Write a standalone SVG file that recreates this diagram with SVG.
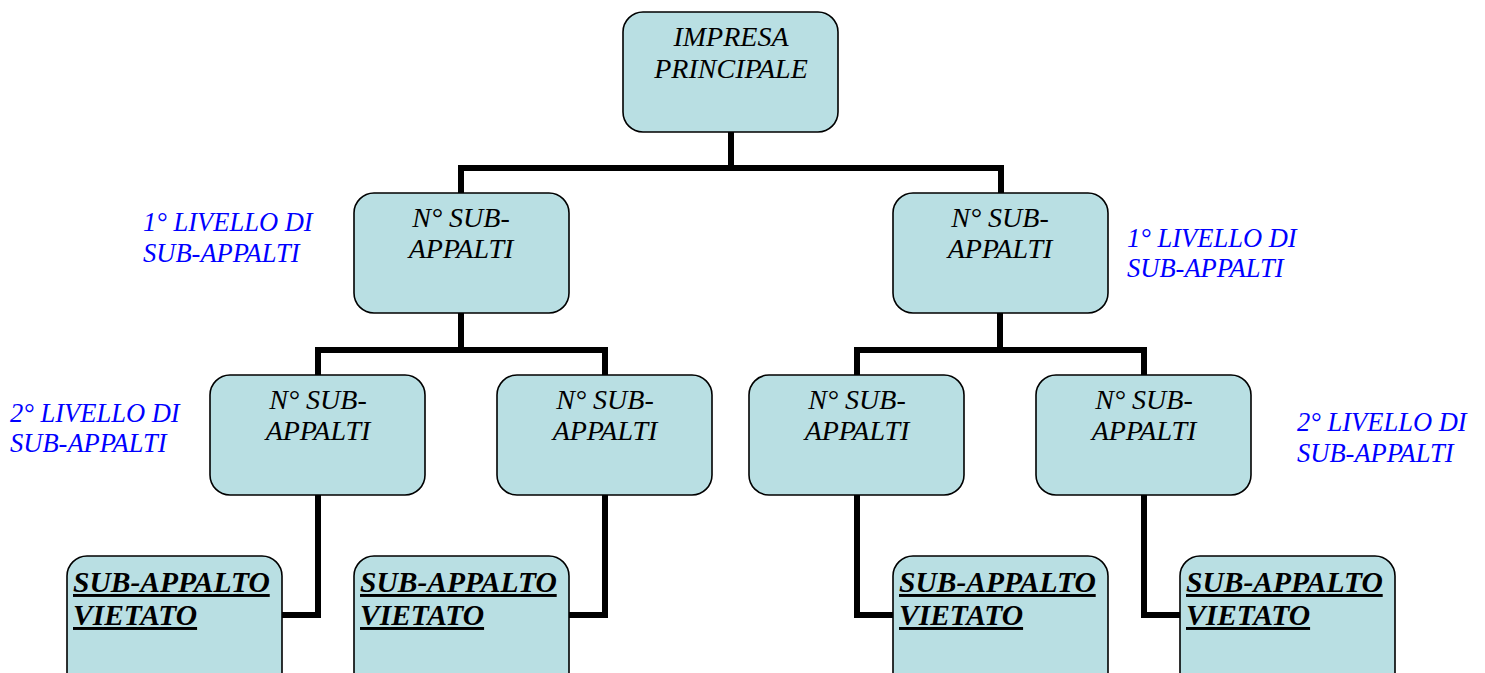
<svg xmlns="http://www.w3.org/2000/svg" width="1485" height="673" viewBox="0 0 1485 673">
<style>
.box{fill:#b9dfe3;stroke:#000;stroke-width:1.6}
.t{font-family:"Liberation Serif","Times New Roman",serif;font-style:italic;font-size:28px;fill:#000;text-anchor:middle}
.v{font-family:"Liberation Serif","Times New Roman",serif;font-style:italic;font-weight:bold;font-size:29.5px;fill:#000;text-decoration:underline}
.lab{font-family:"Liberation Serif","Times New Roman",serif;font-style:italic;font-size:26.5px;fill:#0000ff}
.c{fill:none;stroke:#000;stroke-width:6;stroke-linejoin:miter;stroke-linecap:butt}
</style>
<rect width="1485" height="673" fill="#fff"/>
<g id="connectors">
<path class="c" d="M731,132 V168 M458,168 H1004 M461,168 V193 M1001,168 V193"/>
<path class="c" d="M461,313 V350 M315,350 H608 M318,350 V375 M605,350 V375"/>
<path class="c" d="M1000,313 V350 M854,350 H1147 M857,350 V375 M1144,350 V375"/>
<path class="c" d="M318,495 V615 H282"/>
<path class="c" d="M605,495 V615 H569"/>
<path class="c" d="M857,495 V615 H893"/>
<path class="c" d="M1144,495 V615 H1180"/>
</g>
<g id="impresa">
<rect class="box" x="623" y="12" width="215" height="120" rx="20"/>
<text class="t" x="731" y="46">IMPRESA</text>
<text class="t" x="731" y="78">PRINCIPALE</text>
</g>
<g id="l1-left">
<rect class="box" x="354" y="193" width="215" height="120" rx="20"/>
<text class="t" x="461" y="227">N° SUB-</text>
<text class="t" x="461" y="258">APPALTI</text>
</g>
<g id="l1-right">
<rect class="box" x="893" y="193" width="215" height="120" rx="20"/>
<text class="t" x="1000" y="227">N° SUB-</text>
<text class="t" x="1000" y="258">APPALTI</text>
</g>
<g id="l2-a">
<rect class="box" x="210" y="375" width="215" height="120" rx="20"/>
<text class="t" x="318" y="409">N° SUB-</text>
<text class="t" x="318" y="440">APPALTI</text>
</g>
<g id="l2-b">
<rect class="box" x="497" y="375" width="215" height="120" rx="20"/>
<text class="t" x="605" y="409">N° SUB-</text>
<text class="t" x="605" y="440">APPALTI</text>
</g>
<g id="l2-c">
<rect class="box" x="749" y="375" width="215" height="120" rx="20"/>
<text class="t" x="857" y="409">N° SUB-</text>
<text class="t" x="857" y="440">APPALTI</text>
</g>
<g id="l2-d">
<rect class="box" x="1036" y="375" width="215" height="120" rx="20"/>
<text class="t" x="1144" y="409">N° SUB-</text>
<text class="t" x="1144" y="440">APPALTI</text>
</g>
<g id="v-a">
<rect class="box" x="67" y="556" width="215" height="140" rx="20"/>
<text class="v" x="73" y="592">SUB-APPALTO</text>
<text class="v" x="73" y="625">VIETATO</text>
</g>
<g id="v-b">
<rect class="box" x="354" y="556" width="215" height="140" rx="20"/>
<text class="v" x="360" y="592">SUB-APPALTO</text>
<text class="v" x="360" y="625">VIETATO</text>
</g>
<g id="v-c">
<rect class="box" x="893" y="556" width="215" height="140" rx="20"/>
<text class="v" x="899" y="592">SUB-APPALTO</text>
<text class="v" x="899" y="625">VIETATO</text>
</g>
<g id="v-d">
<rect class="box" x="1180" y="556" width="215" height="140" rx="20"/>
<text class="v" x="1186" y="592">SUB-APPALTO</text>
<text class="v" x="1186" y="625">VIETATO</text>
</g>
<g id="labels">
<text class="lab" x="143" y="231">1° LIVELLO DI</text>
<text class="lab" x="143" y="262">SUB-APPALTI</text>
<text class="lab" x="1127" y="247">1° LIVELLO DI</text>
<text class="lab" x="1127" y="277">SUB-APPALTI</text>
<text class="lab" x="10" y="422">2° LIVELLO DI</text>
<text class="lab" x="10" y="452">SUB-APPALTI</text>
<text class="lab" x="1297" y="431">2° LIVELLO DI</text>
<text class="lab" x="1297" y="462">SUB-APPALTI</text>
</g>
</svg>
